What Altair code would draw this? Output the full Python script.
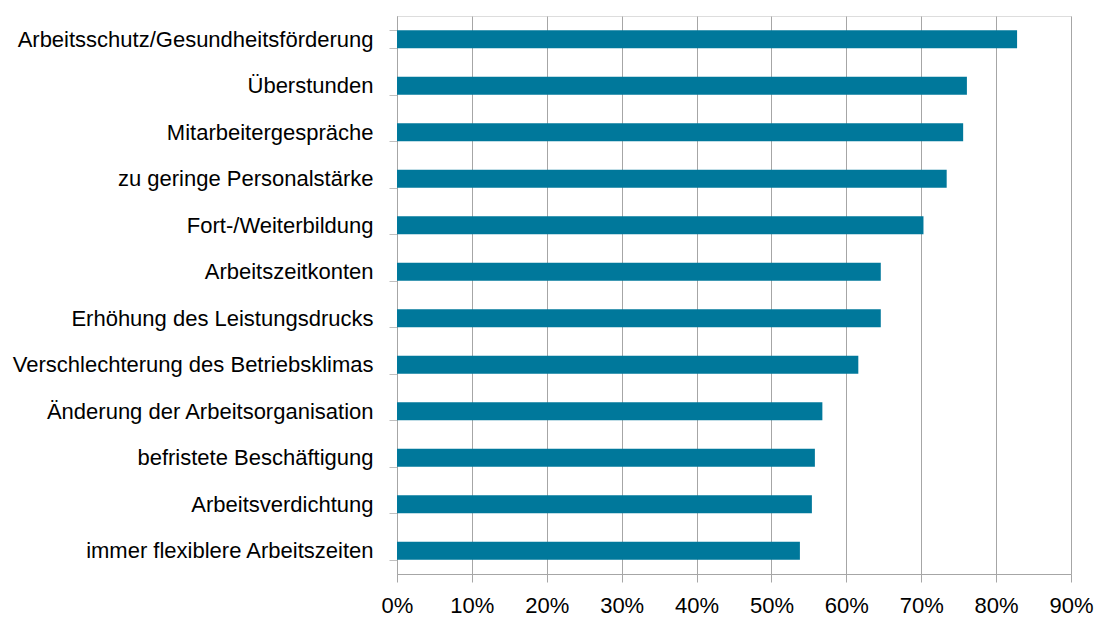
import altair as alt
import pandas as pd

categories = [
    "Arbeitsschutz/Gesundheitsförderung",
    "Überstunden",
    "Mitarbeitergespräche",
    "zu geringe Personalstärke",
    "Fort-/Weiterbildung",
    "Arbeitszeitkonten",
    "Erhöhung des Leistungsdrucks",
    "Verschlechterung des Betriebsklimas",
    "Änderung der Arbeitsorganisation",
    "befristete Beschäftigung",
    "Arbeitsverdichtung",
    "immer flexiblere Arbeitszeiten",
]
values_pct = [82.8, 76.1, 75.6, 73.4, 70.3, 64.6, 64.6, 61.6, 56.8, 55.8, 55.4, 53.8]
x_ticks = [0, 0.1, 0.2, 0.3, 0.4, 0.5, 0.6, 0.7, 0.8, 0.9]

df = pd.DataFrame({"cat": categories, "val": [v / 100 for v in values_pct]})

FONT = "Liberation Sans"

chart = (
    alt.Chart(df)
    .mark_bar(color="#00789b")
    .encode(
        x=alt.X(
            "val:Q",
            scale=alt.Scale(domain=[0, 0.9], nice=False),
            axis=alt.Axis(
                values=x_ticks,
                format=".0%",
                title=None,
                grid=True,
                gridColor="#a6a6a6",
                gridWidth=1,
                domainColor="#a6a6a6",
                tickColor="#a6a6a6",
                tickSize=8,
                labelFlush=False,
                labelOverlap=False,
                labelPadding=13,
                labelFont=FONT,
                labelFontSize=22,
                labelColor="#000000",
            ),
        ),
        y=alt.Y(
            "cat:N",
            sort=categories,
            scale=alt.Scale(paddingInner=0.61, paddingOuter=0.305),
            axis=alt.Axis(
                title=None,
                grid=False,
                tickBand="extent",
                domainColor="#a6a6a6",
                tickColor="#c0c0c0",
                tickSize=8,
                labelPadding=16,
                labelFont=FONT,
                labelFontSize=22,
                labelColor="#000000",
                labelLimit=400,
            ),
        ),
    )
    .properties(
        width=674,
        height=558,
        autosize=alt.AutoSizeParams(type="none"),
        padding={"left": 397, "top": 16, "right": 25, "bottom": 48},
    )
    .configure_view(stroke="transparent")
    .configure(background="white")
)

chart.save("out.html", embed_options={"renderer": "svg", "actions": False})
